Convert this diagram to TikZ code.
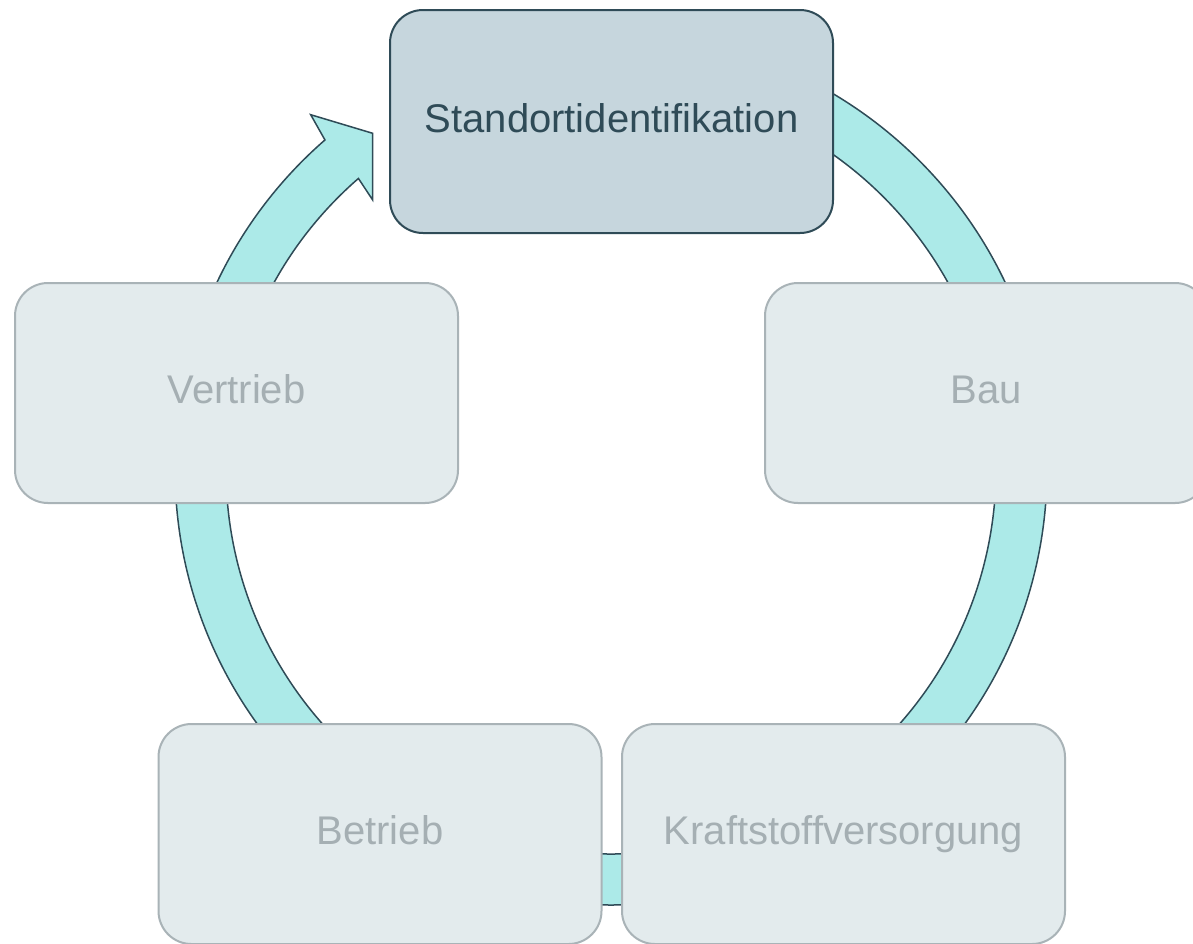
\documentclass[tikz,border=0pt]{standalone}
\usepackage{fontspec}
\setmainfont{Liberation Sans}
\usetikzlibrary{calc}
\definecolor{bandfill}{HTML}{ACEAE8}
\definecolor{darkline}{HTML}{2F4B57}
\definecolor{topfill}{HTML}{C6D6DD}
\definecolor{lightfill}{HTML}{E3EBED}
\definecolor{lightline}{HTML}{A9B3B7}
\definecolor{lighttext}{HTML}{A5AFB3}
\begin{document}
\begin{tikzpicture}[x=0.5pt,y=-0.5pt,
  band/.style={fill=bandfill,draw=darkline,line width=0.75pt,line join=miter},
  stagebox/.style={rectangle,rounded corners=16.5pt,minimum width=221.5pt,minimum height=110pt,
    inner sep=0pt,fill=lightfill,draw=lightline,line width=1pt,text=lighttext,
    font=\fontsize{20pt}{24pt}\selectfont,text height=1.05em,text depth=0pt},
  activebox/.style={stagebox,fill=topfill,draw=darkline,text=darkline,minimum height=111.5pt}]
\clip (0,0) rectangle (1193,943);
\fill[white] (0,0) rectangle (1193,943);
\coordinate (c) at (611,469);
\coordinate (barb) at (310.7,114.7);
\coordinate (tip) at (372.7,133.3);
\coordinate (tipb) at (372.7,200);
\coordinate (inend) at ($(c)+(229:385)$);
\coordinate (outstart) at ($(c)+(-90:436)$);
\path[band] (outstart) arc[start angle=-90,end angle=229,radius=436]
  -- (barb) -- (tip) -- (tipb) -- (inend)
  arc[start angle=229,end angle=-90,radius=385] -- cycle;
\node[activebox] (std) at (611.5,121.5) {Standortidentifikation};
\node[stagebox] (bau) at (986.5,393) {Bau};
\node[stagebox] (kraft) at (843.5,834) {Kraftstoffversorgung};
\node[stagebox] (betrieb) at (380,834) {Betrieb};
\node[stagebox] (vertrieb) at (236.5,393) {Vertrieb};
\end{tikzpicture}
\end{document}
